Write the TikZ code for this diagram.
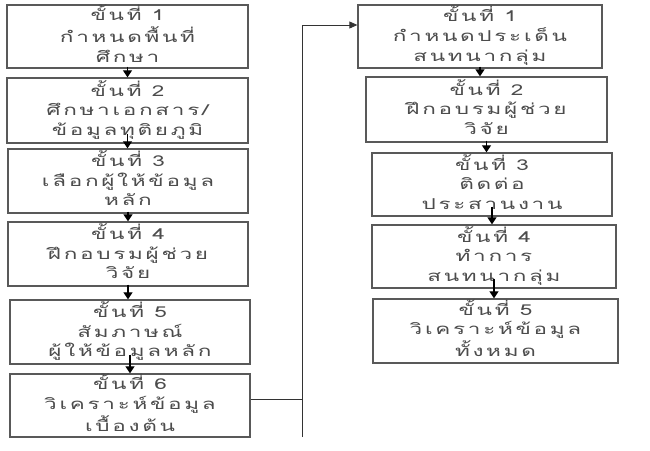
\documentclass[tikz,border=0pt]{standalone}
\usepackage{fontspec}
\newfontfamily\thai[Script=Thai,LetterSpace=12]{Loma}
\usetikzlibrary{arrows.meta,calc}
\newcommand{\steptext}[3]{\scalebox{1.5}[1]{\begin{tabular}{@{}c@{}}#1\\#2\\#3\end{tabular}}}
\begin{document}
\begin{tikzpicture}[x=1pt,y=-1pt,
  box/.style={draw=black!65,line width=1.3pt,fill=white,align=center,inner sep=0pt,
    font=\thai\fontsize{15}{19.5}\selectfont,text=black!70},
  flow/.style={line width=1.2pt,-{Triangle[width=9pt,length=7pt]}},
  link/.style={line width=0.8pt,black!80}]
\useasboundingbox (0,0) rectangle (650,450);
% left column
\node[box,minimum width=241pt,minimum height=63pt] (L1) at (127.5,36.5) {\steptext{ขั้นที่ 1}{กำหนดพื้นที่}{ศึกษา}};
\node[box,minimum width=241pt,minimum height=65pt] (L2) at (127.5,110.5) {\steptext{ขั้นที่ 2}{ศึกษาเอกสาร/}{ข้อมูลทุติยภูมิ}};
\node[box,minimum width=240pt,minimum height=64pt] (L3) at (128,181) {\steptext{ขั้นที่ 3}{เลือกผู้ให้ข้อมูล}{หลัก}};
\node[box,minimum width=240pt,minimum height=64pt] (L4) at (128,254) {\steptext{ขั้นที่ 4}{ฝึกอบรมผู้ช่วย}{วิจัย}};
\node[box,minimum width=240pt,minimum height=64pt] (L5) at (130,332) {\steptext{ขั้นที่ 5}{สัมภาษณ์}{ผู้ให้ข้อมูลหลัก}};
\node[box,minimum width=240pt,minimum height=63pt] (L6) at (130,405.5) {\steptext{ขั้นที่ 6}{วิเคราะห์ข้อมูล}{เบื้องต้น}};
% right column
\node[box,minimum width=244pt,minimum height=63pt] (R1) at (480,36.5) {\steptext{ขั้นที่ 1}{กำหนดประเด็น}{สนทนากลุ่ม}};
\node[box,minimum width=241pt,minimum height=65pt] (R2) at (486.5,109.5) {\steptext{ขั้นที่ 2}{ฝึกอบรมผู้ช่วย}{วิจัย}};
\node[box,minimum width=240pt,minimum height=63pt] (R3) at (492,184.5) {\steptext{ขั้นที่ 3}{ติดต่อ}{ประสานงาน}};
\node[box,minimum width=244pt,minimum height=63pt] (R4) at (494,256.5) {\steptext{ขั้นที่ 4}{ทำการ}{สนทนากลุ่ม}};
\node[box,minimum width=245pt,minimum height=64pt] (R5) at (495.5,331) {\steptext{ขั้นที่ 5}{วิเคราะห์ข้อมูล}{ทั้งหมด}};
% arrows (vertical)
\foreach \a/\b in {L1/L2,L3/L4,L4/L5,R1/R2,R2/R3}
  \draw[flow] ([yshift=2pt]\a.south) -- (\a.south |- \b.north);
\foreach \a/\b in {L2/L3,L5/L6,R3/R4,R4/R5}
  \draw[flow] ([yshift=10pt]\a.south) -- (\a.south |- \b.north);
% link between columns
\coordinate (bot) at (302,437);
\coordinate (top) at (302,25);
\draw[link] ([yshift=6.5pt]L6.east) -- ([yshift=6.5pt]L6.east -| bot);
\draw[link] (bot) -- (top);
\draw[link,-{Triangle[width=7pt,length=8pt]}] (top) -- (top -| R1.west);
\end{tikzpicture}
\end{document}
